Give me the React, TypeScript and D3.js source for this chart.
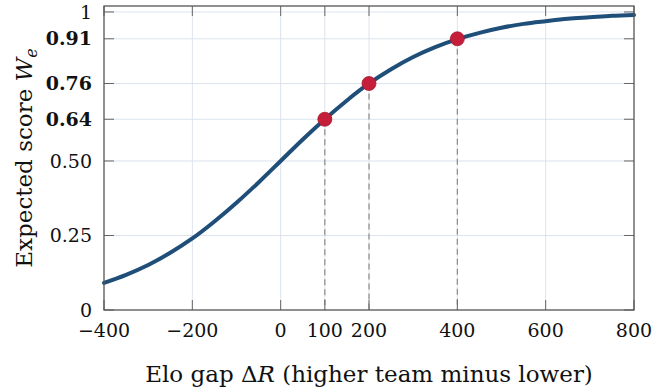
import React, { useRef, useEffect } from 'react';
import * as d3 from 'd3';

// Elo gap (x) and expected score
const eloGap = [-400, -350, -300, -250, -200, -150, -100, -50, 0, 50, 100, 150, 200, 250, 300, 350, 400, 450, 500, 550, 600, 650, 700, 750, 800];
const expectedScore = [0.091, 0.118, 0.151, 0.192, 0.24, 0.297, 0.36, 0.428, 0.5, 0.572, 0.64, 0.703, 0.76, 0.808, 0.849, 0.882, 0.909, 0.93, 0.947, 0.96, 0.969, 0.977, 0.982, 0.987, 0.99];

// highlighted points
const markGap = [100, 200, 400];
const markScore = [0.64, 0.76, 0.91];

const xTicks = [-400, -200, 0, 100, 200, 400, 600, 800];
const xTickLabels = ['\u2212400', '\u2212200', '0', '100', '200', '400', '600', '800'];
const yTicks = [0, 0.25, 0.5, 0.64, 0.76, 0.91, 1];
const yTickLabels = ['0', '0.25', '0.50', '0.64', '0.76', '0.91', '1'];
const yTickBold = [false, false, false, true, true, true, false];

const FONT = '"DejaVu Serif", "Liberation Serif", serif';

const App: React.FC = () => {
  const svgRef = useRef<SVGSVGElement>(null);

  useEffect(() => {
    document.body.style.margin = '0';
    const root = d3.select(svgRef.current);
    root.selectAll('*').remove();

    const W = 653;
    const H = 390;
    const margin = { top: 6, right: 19, bottom: 80, left: 104 };
    const width = W - margin.left - margin.right;
    const height = H - margin.top - margin.bottom;

    root.attr('width', W).attr('height', H);
    const svg = root.append('g').attr('transform', `translate(${margin.left},${margin.top})`);

    const xScale = d3.scaleLinear().domain([-400, 800]).range([0, width]);
    const yScale = d3.scaleLinear().domain([0, 1.02]).range([height, 0]);

    // grid
    svg.selectAll('.vgrid')
      .data(xTicks.slice(1, -1))
      .join('line')
      .attr('x1', d => xScale(d))
      .attr('x2', d => xScale(d))
      .attr('y1', 0)
      .attr('y2', height)
      .attr('stroke', '#dce3ed')
      .attr('stroke-width', 1);

    svg.selectAll('.hgrid')
      .data(yTicks.slice(1))
      .join('line')
      .attr('x1', 0)
      .attr('x2', width)
      .attr('y1', d => yScale(d))
      .attr('y2', d => yScale(d))
      .attr('stroke', '#dce3ed')
      .attr('stroke-width', 1);

    // dashed drop lines
    markGap.forEach((g, i) => {
      svg.append('line')
        .attr('x1', xScale(g))
        .attr('x2', xScale(g))
        .attr('y1', yScale(markScore[i]))
        .attr('y2', height)
        .attr('stroke', '#8a8a8a')
        .attr('stroke-width', 1.2)
        .attr('stroke-dasharray', '6,4');
    });

    // ticks (inward, all four sides)
    const tickLen = 10;
    const tickColor = '#666';
    xTicks.forEach(t => {
      svg.append('line')
        .attr('x1', xScale(t)).attr('x2', xScale(t))
        .attr('y1', height).attr('y2', height - tickLen)
        .attr('stroke', tickColor).attr('stroke-width', 1);
      svg.append('line')
        .attr('x1', xScale(t)).attr('x2', xScale(t))
        .attr('y1', 0).attr('y2', tickLen)
        .attr('stroke', tickColor).attr('stroke-width', 1);
    });
    yTicks.forEach(t => {
      svg.append('line')
        .attr('x1', 0).attr('x2', tickLen)
        .attr('y1', yScale(t)).attr('y2', yScale(t))
        .attr('stroke', tickColor).attr('stroke-width', 1);
      svg.append('line')
        .attr('x1', width).attr('x2', width - tickLen)
        .attr('y1', yScale(t)).attr('y2', yScale(t))
        .attr('stroke', tickColor).attr('stroke-width', 1);
    });

    // curve
    const line = d3.line<number>()
      .x((d, i) => xScale(eloGap[i]))
      .y(d => yScale(d))
      .curve(d3.curveMonotoneX);

    svg.append('path')
      .datum(expectedScore)
      .attr('fill', 'none')
      .attr('stroke', '#1f4e79')
      .attr('stroke-width', 4)
      .attr('stroke-linecap', 'round')
      .attr('d', line);

    // markers
    svg.selectAll('.mark')
      .data(markGap)
      .join('circle')
      .attr('cx', d => xScale(d))
      .attr('cy', (d, i) => yScale(markScore[i]))
      .attr('r', 7)
      .attr('fill', '#c41e3a')
      .attr('stroke', '#a8182f')
      .attr('stroke-width', 0.8);

    // frame
    svg.append('rect')
      .attr('width', width)
      .attr('height', height)
      .attr('fill', 'none')
      .attr('stroke', '#555')
      .attr('stroke-width', 1.3);

    // tick labels
    svg.selectAll('.xlab')
      .data(xTicks)
      .join('text')
      .attr('x', d => xScale(d))
      .attr('y', height + 27)
      .attr('text-anchor', 'middle')
      .attr('font-family', FONT)
      .attr('font-size', 19)
      .attr('fill', '#111')
      .text((d, i) => xTickLabels[i]);

    svg.selectAll('.ylab')
      .data(yTicks)
      .join('text')
      .attr('x', -12)
      .attr('y', d => yScale(d))
      .attr('dy', '0.35em')
      .attr('text-anchor', 'end')
      .attr('font-family', FONT)
      .attr('font-size', 19)
      .attr('font-weight', (d, i) => (yTickBold[i] ? 'bold' : 'normal'))
      .attr('fill', '#111')
      .text((d, i) => yTickLabels[i]);

    // axis titles
    const xTitle = root.append('text')
      .attr('x', margin.left + width / 2)
      .attr('y', 382)
      .attr('text-anchor', 'middle')
      .attr('font-family', FONT)
      .attr('font-size', 23)
      .attr('fill', '#111');
    xTitle.append('tspan').text('Elo gap \u0394');
    xTitle.append('tspan').attr('font-style', 'italic').text('R');
    xTitle.append('tspan').text(' (higher team minus lower)');

    const yTitle = root.append('text')
      .attr('transform', 'translate(32, 158) rotate(-90)')
      .attr('text-anchor', 'middle')
      .attr('font-family', FONT)
      .attr('font-size', 23)
      .attr('fill', '#111');
    yTitle.append('tspan').text('Expected score ');
    yTitle.append('tspan').attr('font-style', 'italic').text('W');
    yTitle.append('tspan').attr('font-style', 'italic').attr('font-size', 16).attr('dy', 5).text('e');
  }, []);

  return (
    <div>
      <svg ref={svgRef} />
    </div>
  );
};

export default App;
